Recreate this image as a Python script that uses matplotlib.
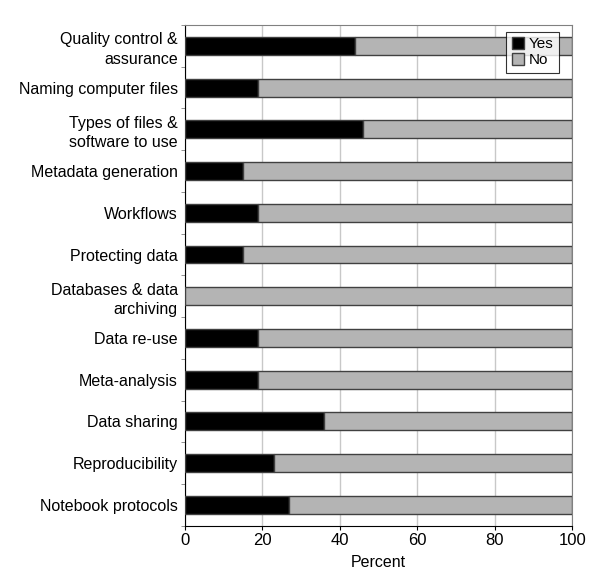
import matplotlib.pyplot as plt
import numpy as np

plt.rcParams['font.family'] = ['Liberation Sans', 'DejaVu Sans']

categories = ['Quality control &\nassurance', 'Naming computer files',
              'Types of files &\nsoftware to use', 'Metadata generation',
              'Workflows', 'Protecting data', 'Databases & data\narchiving',
              'Data re-use', 'Meta-analysis', 'Data sharing',
              'Reproducibility', 'Notebook protocols']
yes = [44, 19, 46, 15, 19, 15, 0, 19, 19, 36, 23, 27]
no = [100 - v for v in yes]

fig = plt.figure(figsize=(6.12, 5.81), dpi=100)
ax = fig.add_axes([0.302, 0.095, 0.633, 0.862])

y = np.arange(len(categories))
ax.barh(y, yes, height=0.43, color='black', edgecolor='#404040', linewidth=1, label='Yes', zorder=3)
ax.barh(y, no, left=yes, height=0.43, color='#b4b4b4', edgecolor='#404040', linewidth=1, label='No', zorder=3)

ax.set_xlim(0, 100)
ax.set_ylim(len(categories) - 0.5, -0.5)
ax.set_xticks([0, 20, 40, 60, 80, 100])
ax.tick_params(axis='x', labelsize=12, length=3, pad=2, direction='out')
ax.set_yticks(y)
ax.set_yticklabels(categories, fontsize=11.5, linespacing=1.35)
ax.tick_params(axis='y', length=0, pad=5)
ax.set_yticks(np.arange(-0.5, len(categories), 1), minor=True)
ax.tick_params(axis='y', which='minor', length=3, color='#808080')
ax.xaxis.grid(True, color='#c8c8c8', linewidth=1, zorder=0)
ax.set_axisbelow(True)
ax.set_xlabel('Percent', fontsize=11.5, labelpad=5)

for s in ['top', 'right']:
    ax.spines[s].set_color('#808080')
for s in ['left', 'bottom']:
    ax.spines[s].set_color('black')

leg = ax.legend(loc='upper right', bbox_to_anchor=(0.965, 0.986), borderaxespad=0,
                fontsize=11, frameon=True, fancybox=False, edgecolor='black',
                handlelength=0.8, handleheight=0.8, handletextpad=0.3,
                borderpad=0.35, labelspacing=0.1)
leg.get_frame().set_linewidth(0.8)

plt.savefig('out.png', dpi=100)
